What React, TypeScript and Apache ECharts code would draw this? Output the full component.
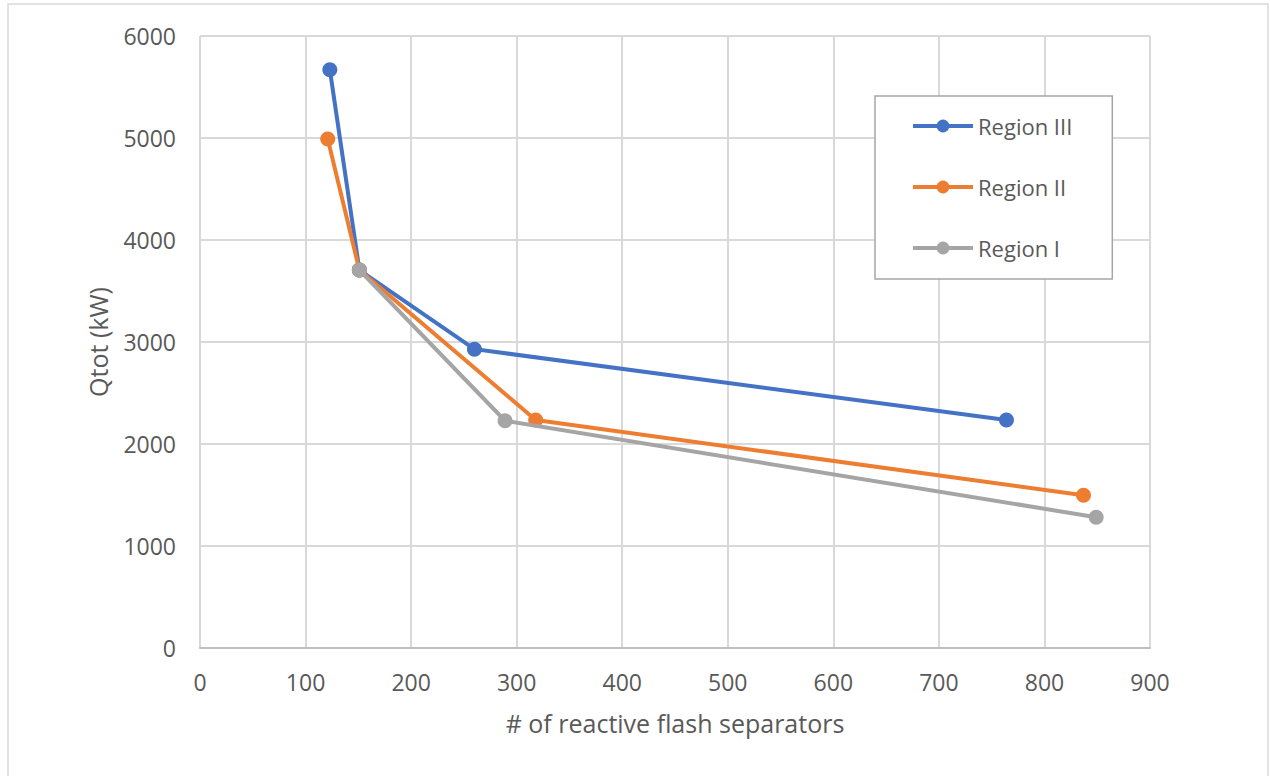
import React, { useEffect, useRef } from "react";
import * as echarts from "echarts";

const seriesNames = ["Region III", "Region II", "Region I"];
const regionIII: [number, number][] = [
  [123, 5670],
  [151, 3705],
  [260, 2930],
  [764, 2235],
];
const regionII: [number, number][] = [
  [121, 4990],
  [151, 3705],
  [318, 2235],
  [837, 1497],
];
const regionI: [number, number][] = [
  [151, 3705],
  [289, 2228],
  [849, 1282],
];
const colors = ["#4472C4", "#ED7D31", "#A5A5A5"];

const FONT = "Open Sans";
const TXT = "#595959";

export default function App() {
  const ref = useRef<HTMLDivElement>(null);
  useEffect(() => {
    document.body.style.margin = "0";
    if (!ref.current) return;
    const chart = echarts.init(ref.current, null, { renderer: "svg" });
    const data = [regionIII, regionII, regionI];
    chart.setOption({
      animation: false,
      backgroundColor: "#ffffff",
      textStyle: { fontFamily: FONT, color: TXT },
      grid: { left: 200, right: 120, top: 36, bottom: 128 },
      graphic: [
        {
          type: "rect",
          shape: { x: 8, y: 4, width: 1260, height: 800 },
          style: { fill: "none", stroke: "#d9d9d9", lineWidth: 1.5 },
          silent: true,
        },
      ],
      legend: {
        orient: "vertical",
        left: 875,
        top: 96,
        data: seriesNames,
        backgroundColor: "#ffffff",
        borderColor: "#a6a6a6",
        borderWidth: 1.5,
        padding: [19, 40, 20, 36],
        itemWidth: 60,
        itemHeight: 16,
        itemGap: 39,
        lineStyle: { width: 4 },
        textStyle: {
          fontFamily: FONT,
          fontSize: 22,
          color: TXT,
          lineHeight: 22,
        },
      },
      xAxis: {
        type: "value",
        min: 0,
        max: 900,
        interval: 100,
        name: "# of reactive flash separators",
        nameLocation: "middle",
        nameGap: 62,
        nameTextStyle: { fontFamily: FONT, fontSize: 25, color: TXT },
        axisLine: { show: true, lineStyle: { color: "#bfbfbf", width: 2 } },
        axisTick: { show: false },
        axisLabel: { fontFamily: FONT, fontSize: 23, color: TXT, margin: 22 },
        splitLine: { show: true, lineStyle: { color: "#d9d9d9", width: 2 } },
      },
      yAxis: {
        type: "value",
        min: 0,
        max: 6000,
        interval: 1000,
        name: "Qtot (kW)",
        nameLocation: "middle",
        nameGap: 90,
        nameTextStyle: { fontFamily: FONT, fontSize: 25, color: TXT },
        axisLine: { show: false },
        axisTick: { show: false },
        axisLabel: {
          fontFamily: FONT,
          fontSize: 23,
          color: TXT,
          margin: 24,
          formatter: (v: number) => String(v),
        },
        splitLine: { show: true, lineStyle: { color: "#d9d9d9", width: 2 } },
      },
      series: seriesNames.map((name, i) => ({
        name,
        type: "line",
        data: data[i],
        color: colors[i],
        symbol: "circle",
        symbolSize: 15,
        lineStyle: { width: 4, color: colors[i] },
        itemStyle: { color: colors[i] },
        z: 3 + i,
      })),
    });
    return () => chart.dispose();
  }, []);
  return <div ref={ref} style={{ width: 1270, height: 776 }} />;
}
